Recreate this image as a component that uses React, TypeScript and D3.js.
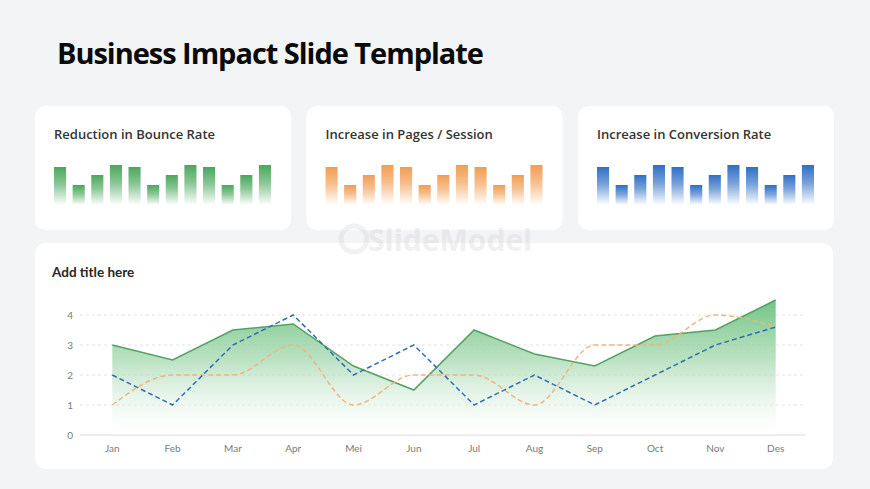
import React from "react";
import * as d3 from "d3";

const W = 870;
const H = 489;

const months = ["Jan", "Feb", "Mar", "Apr", "Mei", "Jun", "Jul", "Aug", "Sep", "Oct", "Nov", "Des"];
const areaSeries = [3, 2.5, 3.5, 3.7, 2.3, 1.5, 3.5, 2.7, 2.3, 3.3, 3.5, 4.5];
const blueSeries = [2, 1, 3, 4, 2, 3, 1, 2, 1, 2, 3, 3.6];
const orangeSeries = [1, 2, 2, 3, 1, 2, 2, 1, 3, 3, 4, 3.6];
const yTicks = [0, 1, 2, 3, 4];

const bounceBars = [38, 20, 30, 40, 38, 20, 30, 40, 38, 20, 30, 40];
const pagesBars = [38, 20, 30, 40, 38, 20, 30, 40, 38, 20, 30, 40];
const conversionBars = [38, 20, 30, 40, 38, 20, 30, 40, 38, 20, 30, 40];

const cardTitles = ["Reduction in Bounce Rate", "Increase in Pages / Session", "Increase in Conversion Rate"];
const cardColors = ["#4aa85c", "#f29d52", "#2f6fc6"];

const FONT = "'Open Sans', 'Noto Sans', sans-serif";
const LATO = "Lato, 'Open Sans', sans-serif";

function MiniCard({ x, title, values, color, id }: { x: number; title: string; values: number[]; color: string; id: string }) {
  const y = 106;
  const bx = d3.scaleBand<number>().domain(values.map((_, i) => i)).range([x + 19, x + 236]).paddingInner(0.35).paddingOuter(0);
  const base = 205;
  const by = d3.scaleLinear().domain([0, 40]).range([base, 165]);
  return (
    <g>
      <defs>
        <linearGradient id={id} x1="0" y1="0" x2="0" y2="1">
          <stop offset="0%" stopColor={color} stopOpacity={1} />
          <stop offset="45%" stopColor={color} stopOpacity={0.65} />
          <stop offset="100%" stopColor={color} stopOpacity={0} />
        </linearGradient>
      </defs>
      <rect x={x} y={y} width={256} height={124} rx={10} fill="#ffffff" />
      <text x={x + 19} y={139} fontFamily={FONT} fontSize={13} fontWeight={600} fill="#333333">
        {title}
      </text>
      {values.map((v, i) => (
        <rect key={i} x={bx(i)} y={by(v)} width={bx.bandwidth()} height={base - by(v)} fill={`url(#${id})`} />
      ))}
    </g>
  );
}

export default function App() {
  const x = d3.scalePoint<string>().domain(months).range([112.3, 775.7]);
  const y = d3.scaleLinear().domain([0, 4]).range([435, 315]);

  const areaGen = d3
    .area<number>()
    .x((_, i) => x(months[i]) as number)
    .y0(y(0))
    .y1((d) => y(d));
  const lineGen = d3
    .line<number>()
    .x((_, i) => x(months[i]) as number)
    .y((d) => y(d));
  const smoothGen = d3
    .line<number>()
    .x((_, i) => x(months[i]) as number)
    .y((d) => y(d))
    .curve(d3.curveMonotoneX);

  const barSets = [bounceBars, pagesBars, conversionBars];
  const cardX = [35, 306.5, 578];

  return (
    <div style={{ position: "absolute", left: 0, top: 0 }}>
      <svg width={W} height={H} viewBox={`0 0 ${W} ${H}`} style={{ display: "block" }}>
        <defs>
          <linearGradient id="areaGrad" x1="0" y1="0" x2="0" y2="1">
            <stop offset="0%" stopColor="#6cc07e" stopOpacity={0.95} />
            <stop offset="45%" stopColor="#9fd6aa" stopOpacity={0.7} />
            <stop offset="100%" stopColor="#ffffff" stopOpacity={0.2} />
          </linearGradient>
        </defs>
        <rect x={0} y={0} width={W} height={H} fill="#f3f4f6" />
        <text
          x={57}
          y={64}
          fontFamily={FONT}
          fontSize={29}
          fontWeight={700}
          fill="#0a0a0a"
          textLength={427}
          lengthAdjust="spacing"
        >
          Business Impact Slide Template
        </text>

        {cardTitles.map((t, i) => (
          <MiniCard key={i} x={cardX[i]} title={t} values={barSets[i]} color={cardColors[i]} id={`bar${i}`} />
        ))}

        <rect x={35} y={243} width={798} height={226} rx={10} fill="#ffffff" />

        <text x={368} y={251} fontFamily={FONT} fontSize={30} fontWeight={700} fill="#cfcfcf" opacity={0.3}>
          SlideModel
        </text>
        <circle cx={354} cy={239} r={13} fill="none" stroke="#cfcfcf" strokeWidth={5} opacity={0.3} />

        <text x={52} y={277} fontFamily={LATO} fontSize={13.5} fontWeight={700} fill="#262626">
          Add title here
        </text>

        {yTicks.map((t) => (
          <g key={t}>
            <line
              x1={80}
              x2={805}
              y1={y(t)}
              y2={y(t)}
              stroke={t === 0 ? "#d9d9d9" : "#e3e3e3"}
              strokeWidth={1}
              strokeDasharray={t === 0 ? undefined : "3,3"}
            />
            <text x={73} y={y(t) + 3.5} textAnchor="end" fontFamily={LATO} fontSize={10} fill="#7a7a7a">
              {t}
            </text>
          </g>
        ))}

        <path d={areaGen(areaSeries) || ""} fill="url(#areaGrad)" />
        <path d={lineGen(areaSeries) || ""} fill="none" stroke="#54a163" strokeWidth={1.5} />
        <path d={smoothGen(orangeSeries) || ""} fill="none" stroke="#efb57f" strokeWidth={1.5} strokeDasharray="5,3" />
        <path d={lineGen(blueSeries) || ""} fill="none" stroke="#2f6eb5" strokeWidth={1.5} strokeDasharray="5,3" />

        {months.map((m) => (
          <text key={m} x={x(m)} y={452} textAnchor="middle" fontFamily={LATO} fontSize={10} fill="#7a7a7a">
            {m}
          </text>
        ))}
      </svg>
    </div>
  );
}
